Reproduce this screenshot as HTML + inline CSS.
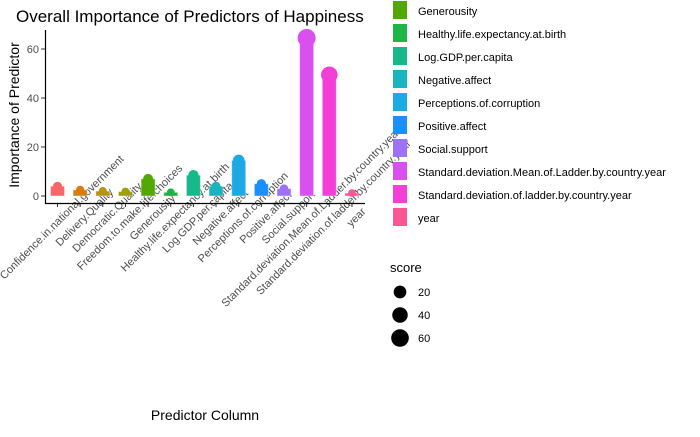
<!DOCTYPE html>
<html><head><meta charset="utf-8"><style>
body{margin:0;background:#fff;width:700px;height:432px;overflow:hidden;font-family:"Liberation Sans",sans-serif}
</style></head><body>
<svg id="c" width="700" height="432" xmlns="http://www.w3.org/2000/svg" font-family="Liberation Sans, sans-serif"></svg>
<script>
const categories=["Confidence.in.national.government","Delivery.Quality","Democratic.Quality","Freedom.to.make.life.choices","Generousity","Healthy.life.expectancy.at.birth","Log.GDP.per.capita","Negative.affect","Perceptions.of.corruption","Positive.affect","Social.support","Standard.deviation.Mean.of.Ladder.by.country.year","Standard.deviation.of.ladder.by.country.year","year"];
const values=[4,2.5,2,1.8,7,1.5,8.5,4,14.5,5,3,64.5,49.5,1.2];
const colors=["#F8666A","#D87C0D","#B7950C","#9AA012","#53A800","#1CB546","#16B98A","#18B5BE","#1DA9E3","#1A8FFF","#9B72F8","#D94FF0","#F33FD6","#FB5594"];
const yTicks=[0,20,40,60];
const legendLabels=["Generousity","Healthy.life.expectancy.at.birth","Log.GDP.per.capita","Negative.affect","Perceptions.of.corruption","Positive.affect","Social.support","Standard.deviation.Mean.of.Ladder.by.country.year","Standard.deviation.of.ladder.by.country.year","year"];
const legendColors=["#53A800","#1CB546","#16B98A","#18B5BE","#1DA9E3","#1A8FFF","#9B72F8","#D94FF0","#F33FD6","#FB5594"];
const sizeBreaks=[20,40,60];

const svg=document.getElementById('c');const NS="http://www.w3.org/2000/svg";
function mk(t,a,txt){const e=document.createElementNS(NS,t);for(const k in a)e.setAttribute(k,a[k]);if(txt!==undefined)e.textContent=txt;svg.appendChild(e);return e;}
const y=v=>196-v*2.45;
const x=i=>57.5+i*22.65;
const r=v=>3+0.75*Math.sqrt(v);

let e=mk('text',{x:16,y:22,'font-size':17,fill:'#000'},'Overall Importance of Predictors of Happiness');



yTicks.forEach(t=>{
 let l=mk('line',{x1:41,x2:45,y1:y(t),y2:y(t),stroke:'#333','stroke-width':1});
 
 
 let tx=mk('text',{x:39,y:y(t)+4,'font-size':11,fill:'#4d4d4d','text-anchor':'end'},t);
 
 
});

categories.forEach((c,i)=>{
 const v=values[i],cx=x(i);
 let b=mk('rect',{x:cx-7,y:y(v),width:14,height:196-y(v),fill:colors[i],stroke:'#fff','stroke-opacity':0.4,'stroke-width':1});
 
 
 let p=mk('circle',{cx:cx,cy:y(v),r:r(v),fill:colors[i]});
 
 
 let tk=mk('line',{x1:cx,x2:cx,y1:203,y2:207,stroke:'#333'});
 
 
 const lx=cx+4,ly=217;
 let lb=mk('text',{x:lx,y:ly+4,'font-size':11,fill:'#4d4d4d','text-anchor':'middle',transform:`rotate(-45 ${lx} ${ly})`},c);
 
 
});

let ax=mk('path',{d:'M45.5 30 V203.5 H365',fill:'none',stroke:'#000','stroke-width':1.2});



let yt=mk('text',{x:19,y:115,'font-size':14,'text-anchor':'middle',transform:'rotate(-90 19 115)'},'Importance of Predictor');


let xt=mk('text',{x:205,y:420,'font-size':14,'text-anchor':'middle'},'Predictor Column');



legendLabels.forEach((l,i)=>{
 const yy=1+i*23;
 let k=mk('rect',{x:393,y:yy,width:14,height:18,fill:legendColors[i]});
 
 
 let t=mk('text',{x:418,y:yy+14,'font-size':11,fill:'#000'},l);
 
 
});

let st=mk('text',{x:390,y:272,'font-size':13},'score');


sizeBreaks.forEach((s,i)=>{
 const yy=292+i*23;
 let c=mk('circle',{cx:400,cy:yy,r:r(s),fill:'#000'});
 
 
 let t=mk('text',{x:418,y:yy+4,'font-size':11},s);
 
 
});
</script>
</body></html>
